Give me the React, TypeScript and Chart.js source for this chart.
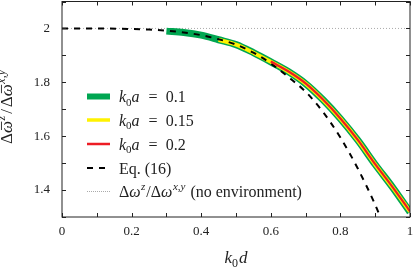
import React, { useEffect, useRef } from "react";
import { Chart, registerables } from "chart.js";

Chart.register(...registerables);

// ---- data ----
const eqX = [0, 0.1, 0.2, 0.25, 0.3, 0.35, 0.4, 0.45, 0.5, 0.55, 0.6, 0.65, 0.7, 0.75, 0.8, 0.85, 0.9, 0.93];
const eqY = [2.0, 2.0, 1.998, 1.996, 1.992, 1.985, 1.975, 1.96, 1.94, 1.91, 1.87, 1.82, 1.765, 1.69, 1.595, 1.48, 1.345, 1.25];

const k01X = [0.3, 0.35, 0.4, 0.45, 0.5, 0.55, 0.6, 0.65, 0.7, 0.75, 0.8, 0.85, 0.9, 0.95, 1.0];
const k01Y = [1.99, 1.985, 1.975, 1.958, 1.94, 1.91, 1.876, 1.84, 1.795, 1.735, 1.665, 1.585, 1.495, 1.41, 1.318];

const k015X = [0.45, 0.5, 0.55, 0.6, 0.65, 0.7, 0.75, 0.8, 0.85, 0.9, 0.95, 1.0];
const k015Y = [1.958, 1.94, 1.91, 1.876, 1.84, 1.795, 1.735, 1.665, 1.585, 1.495, 1.41, 1.32];

const k02X = [0.6, 0.65, 0.7, 0.75, 0.8, 0.85, 0.9, 0.95, 1.0];
const k02Y = [1.877, 1.841, 1.796, 1.736, 1.666, 1.586, 1.496, 1.411, 1.321];

const noEnvX = [0, 1];
const noEnvY = [2, 2];

const xTicks = [0, 0.2, 0.4, 0.6, 0.8, 1];
const yTicks = [1.4, 1.6, 1.8, 2];

const GREEN = "#00a651";
const YELLOW = "#fff200";
const RED = "#ed1c24";
const FAMILY = '"Liberation Serif", "DejaVu Serif", serif';

type Seg = { t: string; it?: boolean; sub?: boolean; sup?: boolean; bar?: boolean; gap?: number };

function segFont(s: Seg, size: number) {
  const sz = s.sub || s.sup ? Math.round(size * 0.7) : size;
  return `${s.it ? "italic " : ""}${sz}px ${FAMILY}`;
}

function drawRich(ctx: CanvasRenderingContext2D, segs: Seg[], x: number, baseline: number, size: number, align: "left" | "center") {
  let total = 0;
  for (const s of segs) {
    ctx.font = segFont(s, size);
    total += ctx.measureText(s.t).width + (s.gap || 0);
  }
  let cx = align === "center" ? x - total / 2 : x;
  ctx.textAlign = "left";
  ctx.textBaseline = "alphabetic";
  for (const s of segs) {
    ctx.font = segFont(s, size);
    const w = ctx.measureText(s.t).width;
    const dy = s.sub ? size * 0.22 : s.sup ? -size * 0.42 : 0;
    ctx.fillText(s.t, cx, baseline + dy);
    if (s.bar) {
      ctx.save();
      ctx.lineWidth = 0.9;
      ctx.beginPath();
      ctx.moveTo(cx + w * 0.25, baseline - size * 0.62);
      ctx.lineTo(cx + w * 0.95, baseline - size * 0.62);
      ctx.stroke();
      ctx.restore();
    }
    cx += w + (s.gap || 0);
  }
}

const kaSegs = (v: string): Seg[] => [
  { t: "k", it: true }, { t: "0", sub: true }, { t: "a", it: true, gap: 1 }, { t: "\u2002=\u2002" + v },
];

const legendItems: { segs: Seg[]; color: string; width: number; dash: number[] }[] = [
  { segs: kaSegs("0.1"), color: GREEN, width: 6, dash: [] },
  { segs: kaSegs("0.15"), color: YELLOW, width: 3.5, dash: [] },
  { segs: kaSegs("0.2"), color: RED, width: 2.5, dash: [] },
  { segs: [{ t: "Eq. (16)" }], color: "#000", width: 2, dash: [6, 6] },
  {
    segs: [
      { t: "Δ" }, { t: "ω", it: true, gap: 0.5 }, { t: "z", it: true, sup: true, gap: 1 }, { t: "/Δ" }, { t: "ω", it: true, gap: 0.5 },
      { t: "x,y", it: true, sup: true, gap: 1 }, { t: " (no environment)" },
    ],
    color: "#aaa", width: 1, dash: [1, 1],
  },
];

const decoPlugin = {
  id: "deco",
  afterDraw(chart: any) {
    const ctx: CanvasRenderingContext2D = chart.ctx;
    const a = chart.chartArea;
    const xs = chart.scales.x;
    const ys = chart.scales.y;
    ctx.save();
    ctx.strokeStyle = "#222";
    ctx.fillStyle = "#222";
    ctx.lineWidth = 1;
    // frame
    ctx.strokeRect(a.left, a.top, a.right - a.left, a.bottom - a.top);
    // inward ticks every 0.1
    const tl = 4;
    ctx.beginPath();
    for (let i = 0; i <= 10; i++) {
      const px = Math.round(xs.getPixelForValue(i / 10)) + 0.5;
      ctx.moveTo(px, a.bottom);
      ctx.lineTo(px, a.bottom - tl);
      ctx.moveTo(px, a.top);
      ctx.lineTo(px, a.top + tl);
    }
    for (let i = 13; i <= 21; i++) {
      const py = Math.round(ys.getPixelForValue(i / 10)) + 0.5;
      ctx.moveTo(a.left, py);
      ctx.lineTo(a.left + tl, py);
      ctx.moveTo(a.right, py);
      ctx.lineTo(a.right - tl, py);
    }
    ctx.stroke();

    // legend
    const rows = [96.5, 120, 144, 168, 191.5];
    legendItems.forEach((it, i) => {
      const y = rows[i];
      ctx.save();
      ctx.strokeStyle = it.color;
      ctx.lineWidth = it.width;
      ctx.setLineDash(it.dash);
      ctx.beginPath();
      ctx.moveTo(87, y);
      ctx.lineTo(110, y);
      ctx.stroke();
      ctx.restore();
      ctx.fillStyle = "#222";
      drawRich(ctx, it.segs, 119, y + 5.5, 16, "left");
    });

    // x title
    ctx.fillStyle = "#222";
    ctx.strokeStyle = "#222";
    drawRich(ctx, [{ t: "k", it: true }, { t: "0", sub: true, gap: 1 }, { t: "d", it: true }], (a.left + a.right) / 2, 263, 17, "center");

    // y title
    ctx.save();
    ctx.translate(12, 107);
    ctx.rotate(-Math.PI / 2);
    drawRich(
      ctx,
      [
        { t: "Δ" }, { t: "ω", it: true, bar: true, gap: 0.5 }, { t: "z", it: true, sup: true, gap: 2 }, { t: "/", gap: 2 }, { t: "Δ" },
        { t: "ω", it: true, bar: true, gap: 0.5 }, { t: "x,y", it: true, sup: true },
      ],
      0, 0, 17, "center"
    );
    ctx.restore();
    ctx.restore();
  },
};

function pts(xs: number[], ys: number[]) {
  return xs.map((x, i) => ({ x, y: ys[i] }));
}

export default function App() {
  const ref = useRef<HTMLCanvasElement | null>(null);
  useEffect(() => {
    document.body.style.margin = "0";
    const canvas = ref.current!;
    const chart = new Chart(canvas, {
      type: "line",
      data: {
        datasets: [
          { label: "noenv", order: 5, data: pts(noEnvX, noEnvY), borderColor: "#aaa", borderWidth: 1, borderDash: [1, 2], pointRadius: 0, tension: 0 },
          { label: "k0a = 0.1", order: 4, data: pts(k01X, k01Y), borderColor: GREEN, borderWidth: 7, pointRadius: 0, cubicInterpolationMode: "monotone" },
          { label: "k0a = 0.15", order: 3, data: pts(k015X, k015Y), borderColor: YELLOW, borderWidth: 4, pointRadius: 0, cubicInterpolationMode: "monotone" },
          { label: "Eq. (16)", order: 2, data: pts(eqX, eqY), borderColor: "#000", borderWidth: 2, borderDash: [6, 6], pointRadius: 0, cubicInterpolationMode: "monotone", clip: 0 } as any,
          { label: "k0a = 0.2", order: 1, data: pts(k02X, k02Y), borderColor: RED, borderWidth: 2.2, pointRadius: 0, cubicInterpolationMode: "monotone" },
        ],
      },
      options: {
        animation: false,
        responsive: false,
        maintainAspectRatio: false,
        layout: { padding: { left: 0, top: 1.5, right: 5, bottom: 0 } },
        plugins: { legend: { display: false }, tooltip: { enabled: false } },
        scales: {
          x: {
            type: "linear",
            min: 0,
            max: 1,
            grid: { display: false, drawTicks: false },
            border: { display: false },
            ticks: {
              stepSize: 0.1,
              autoSkip: false,
              maxRotation: 0,
              padding: 7,
              color: "#222",
              font: { family: FAMILY, size: 13 },
              callback: (v: any) => {
                const r = Math.round(Number(v) * 10);
                return xTicks.some((t) => Math.round(t * 10) === r) ? String(r / 10) : "";
              },
            },
            afterFit: (s: any) => { s.height = 270 - 217; s.paddingLeft = 0; s.paddingRight = 0; },
          },
          y: {
            type: "linear",
            min: 1.3,
            max: 2.1,
            grid: { display: false, drawTicks: false },
            border: { display: false },
            ticks: {
              stepSize: 0.1,
              autoSkip: false,
              padding: 12,
              color: "#222",
              font: { family: FAMILY, size: 13 },
              callback: (v: any) => {
                const r = Math.round(Number(v) * 10);
                return yTicks.some((t) => Math.round(t * 10) === r) ? String(r / 10) : "";
              },
            },
            afterFit: (s: any) => { s.width = 62; s.paddingTop = 0; s.paddingBottom = 0; },
          },
        },
      },
      plugins: [decoPlugin],
    } as any);
    return () => chart.destroy();
  }, []);
  return (
    <div style={{ width: 415, height: 270 }}>
      <canvas ref={ref} width={415} height={270} style={{ width: 415, height: 270, display: "block" }} />
    </div>
  );
}
